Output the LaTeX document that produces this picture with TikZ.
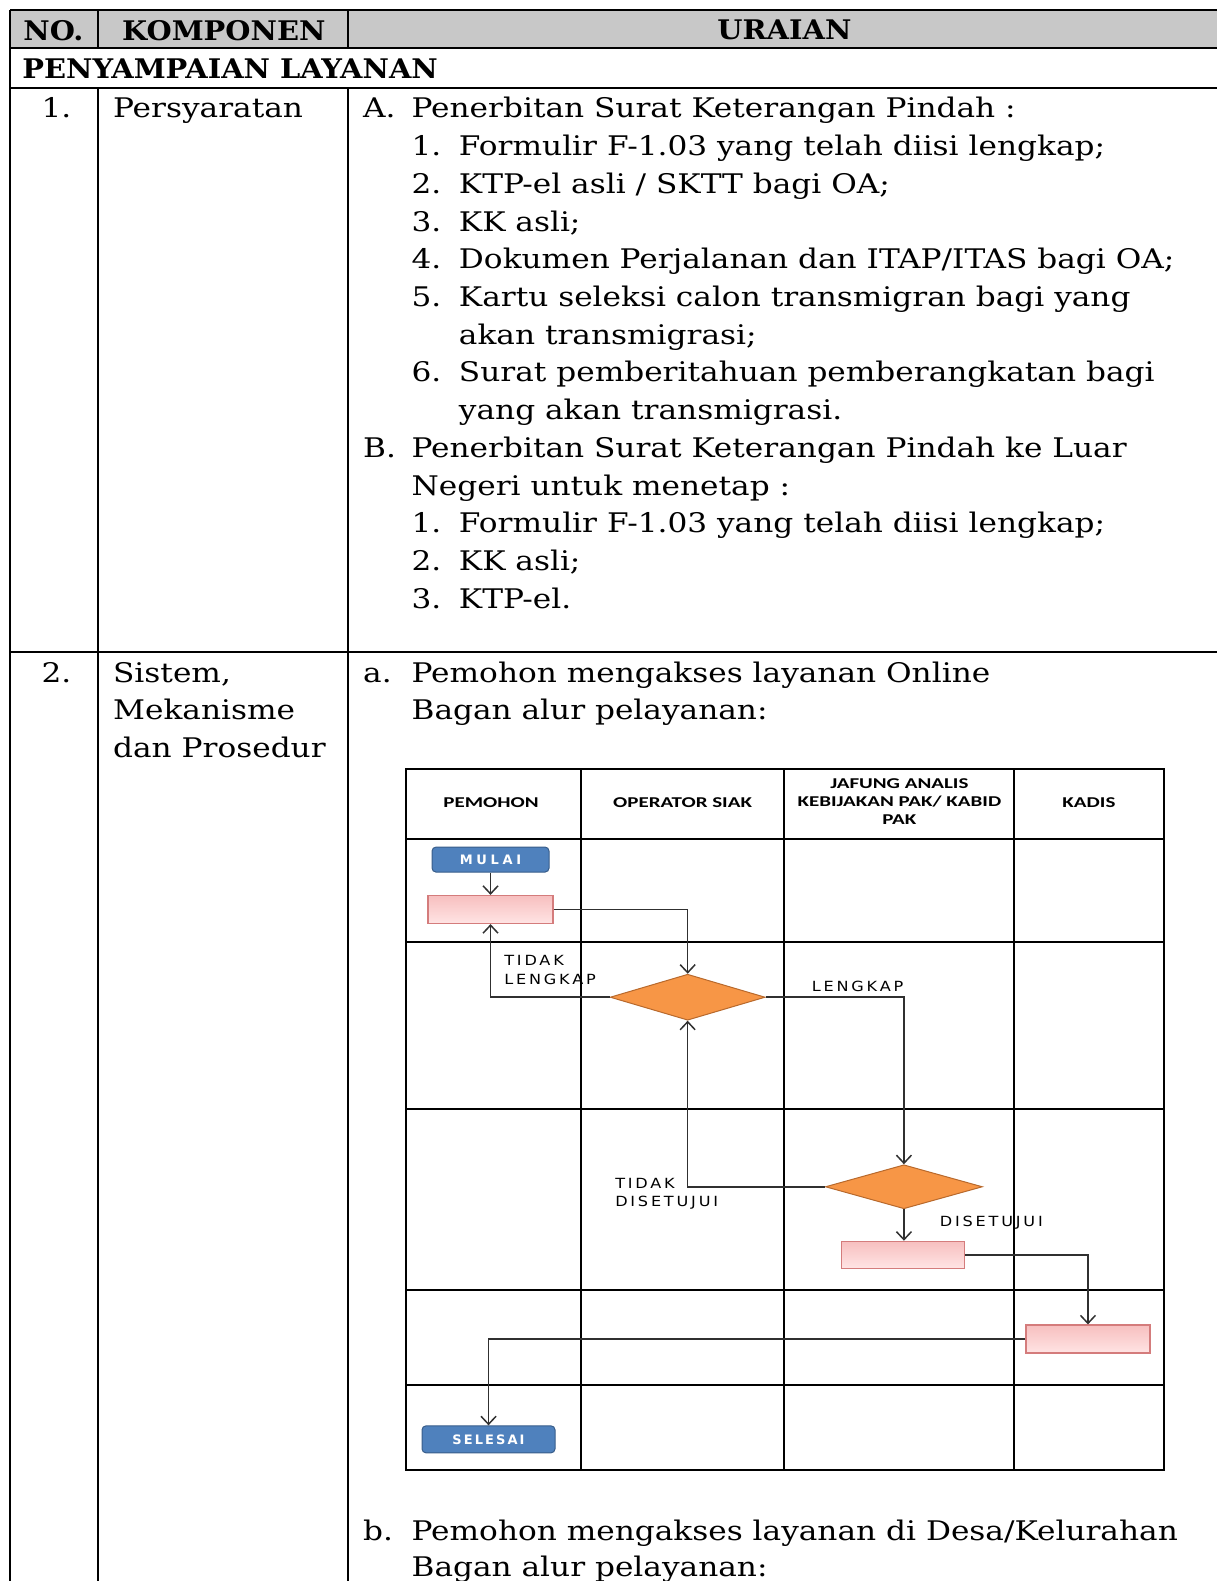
\documentclass[tikz,border=0pt]{standalone}
\usepackage{fontspec}
\setmainfont[FakeStretch=1.155]{DejaVu Serif}
\newfontfamily\hdrfont[FakeStretch=1.07]{DejaVu Serif}
\newfontfamily\chartfont[FakeStretch=1.4]{Carlito}
\newfontfamily\lblfont[FakeStretch=1.15,LetterSpace=20]{DejaVu Sans}
\newfontfamily\startfont[LetterSpace=28]{DejaVu Sans}
\newfontfamily\endfont[LetterSpace=16]{DejaVu Sans}
\usetikzlibrary{shapes.geometric,arrows.meta}

\definecolor{hdrgray}{HTML}{C8C8C8}
\definecolor{termblue}{HTML}{4F81BD}
\definecolor{termedge}{HTML}{385D8A}
\definecolor{pinktop}{HTML}{F7BFBF}
\definecolor{pinkbot}{HTML}{FFE4E4}
\definecolor{procedge}{HTML}{D47C7C}
\definecolor{decorange}{HTML}{F79646}
\definecolor{decedge}{HTML}{B8692C}
\definecolor{flowline}{HTML}{303030}

\tikzset{
  tabrule/.style={line width=2pt, black},
  gridrule/.style={line width=2pt, black},
  body/.style={anchor=base west, inner sep=0pt, font=\fontsize{27}{37}\selectfont},
  hdr/.style={inner sep=0pt, font=\hdrfont\fontsize{27}{37}\selectfont\bfseries},
  lanehdr/.style={inner sep=0pt, align=center, font=\chartfont\bfseries\fontsize{15}{18}\selectfont},
  flowlbl/.style={anchor=base west, inner sep=0pt, font=\lblfont\fontsize{14}{18}\selectfont},
  terminal/.style={rectangle, rounded corners=4pt, fill=termblue, draw=termedge,
    line width=1pt, text=white, font=\bfseries\fontsize{13}{15}\selectfont, inner sep=0pt},
  process/.style={rectangle, top color=pinktop, bottom color=pinkbot, draw=procedge,
    line width=1.2pt, inner sep=0pt},
  decision/.style={diamond, fill=decorange, draw=decedge, line width=1pt, inner sep=0pt},
  flow/.style={line width=1.5pt, draw=flowline, -{Straight Barb[length=8pt,width=15pt]}},
}

\begin{document}
\begin{tikzpicture}[x=1.00829pt,y=-1.00829pt]
\useasboundingbox (0,0) rectangle (1207,1568);
\clip (0,0) rectangle (1207,1568);

% ---------- table frame ----------
\fill[hdrgray] (10,10) rectangle (1230,48);
\draw[tabrule] (10,10) -- (1230,10);
\draw[tabrule] (10,48) -- (1230,48);
\draw[tabrule] (10,87) -- (1230,87);
\draw[tabrule] (10,647) -- (1230,647);
\draw[tabrule] (10,10) -- (10,1590);
\draw[tabrule] (97,10) -- (97,48);
\draw[tabrule] (345,10) -- (345,48);
\draw[tabrule] (97,87) -- (97,1590);
\draw[tabrule] (345,87) -- (345,1590);

% ---------- header ----------
\node[hdr] (hno) at (53,30) {NO.};
\node[hdr] (hkomp) at (222,30) {KOMPONEN};
\node[hdr] (hurai) at (778,30) {URAIAN};
\node[hdr, anchor=base west] (hsec) at (22,78) {PENYAMPAIAN LAYANAN};

% ---------- row 1 ----------
\node[body] (n1) at (41,117) {1.};
\node[body] (k1) at (112,117) {Persyaratan};
\node[body] (aA) at (360,117) {A.};
\node[body] (aAt) at (408,117) {Penerbitan Surat Keterangan Pindah :};
\node[body] (a1) at (408,154.4) {1.};
\node[body] (a1t) at (455,154.4) {Formulir F-1.03 yang telah diisi lengkap;};
\node[body] (a2) at (408,191.8) {2.};
\node[body] (a2t) at (455,191.8) {KTP-el asli / SKTT bagi OA;};
\node[body] (a3) at (408,229.2) {3.};
\node[body] (a3t) at (455,229.2) {KK asli;};
\node[body] (a4) at (408,266.6) {4.};
\node[body] (a4t) at (455,266.6) {Dokumen Perjalanan dan ITAP/ITAS bagi OA;};
\node[body] (a5) at (408,304) {5.};
\node[body] (a5t) at (455,304) {Kartu seleksi calon transmigran bagi yang};
\node[body] (a5u) at (455,341.4) {akan transmigrasi;};
\node[body] (a6) at (408,378.8) {6.};
\node[body] (a6t) at (455,378.8) {Surat pemberitahuan pemberangkatan bagi};
\node[body] (a6u) at (455,416.2) {yang akan transmigrasi.};
\node[body] (aB) at (360,453.6) {B.};
\node[body] (aBt) at (408,453.6) {Penerbitan Surat Keterangan Pindah ke Luar};
\node[body] (aBu) at (408,491) {Negeri untuk menetap :};
\node[body] (b1) at (408,528.4) {1.};
\node[body] (b1t) at (455,528.4) {Formulir F-1.03 yang telah diisi lengkap;};
\node[body] (b2) at (408,565.8) {2.};
\node[body] (b2t) at (455,565.8) {KK asli;};
\node[body] (b3) at (408,603.2) {3.};
\node[body] (b3t) at (455,603.2) {KTP-el.};

% ---------- row 2 ----------
\node[body] (n2) at (41,677) {2.};
\node[body] (k2a) at (112,677) {Sistem,};
\node[body] (k2b) at (112,714) {Mekanisme};
\node[body] (k2c) at (112,751) {dan Prosedur};
\node[body] (ua) at (360,677) {a.};
\node[body] (uat) at (408,677) {Pemohon mengakses layanan Online};
\node[body] (uau) at (408,714) {Bagan alur pelayanan:};
\node[body] (ub) at (360,1528) {b.};
\node[body] (ubt) at (408,1528) {Pemohon mengakses layanan di Desa/Kelurahan};
\node[body] (ubu) at (408,1564) {Bagan alur pelayanan:};

% ---------- swimlane grid ----------
\draw[gridrule] (403,763) rectangle (1154,1458);
\foreach \gx in {576,778,1006} \draw[gridrule] (\gx,763) -- (\gx,1458);
\foreach \gy in {832,934,1100,1279,1374} \draw[gridrule] (403,\gy) -- (1154,\gy);

\node[lanehdr] (lp) at (487,796) {PEMOHON};
\node[lanehdr] (lo) at (677,796) {OPERATOR SIAK};
\node[lanehdr] (lj) at (892,795) {JAFUNG ANALIS\\KEBIJAKAN PAK/ KABID\\PAK};
\node[lanehdr] (lk) at (1080,796) {KADIS};

% ---------- flow nodes ----------
\node[terminal, font=\startfont\bfseries\fontsize{13}{15}\selectfont,
      minimum width=117pt, minimum height=25pt] (mulai) at (486.5,852.5) {MULAI};
\node[process, minimum width=125pt, minimum height=28pt] (box1) at (486.5,902) {};
\node[decision, minimum width=155pt, minimum height=46pt] (dec1) at (682,989) {};
\node[decision, minimum width=157pt, minimum height=44pt] (dec2) at (896.5,1177) {};
\node[process, minimum width=123pt, minimum height=27pt] (box2) at (895.5,1244.5) {};
\node[process, minimum width=124pt, minimum height=28pt] (box3) at (1079,1328) {};
\node[terminal, font=\endfont\bfseries\fontsize{13}{15}\selectfont,
      minimum width=133pt, minimum height=27pt] (selesai) at (484.5,1427.5) {SELESAI};

% ---------- connectors ----------
\draw[flow] (mulai) -- (box1);
\draw[flow] (box1.east) -| (dec1.north);
\draw[flow] (dec1.west) -| (box1.south);
\draw[flow] (dec1.east) -| (dec2.north);
\draw[flow] (dec2.west) -| (dec1.south);
\draw[flow] (dec2.south) -- (dec2.south |- box2.north);
\draw[flow] (box2.east) -| (box3.north);
\draw[flow] (box3.west) -| (selesai.north);

% ---------- connector labels ----------
\node[flowlbl] (ltl1) at (500,958) {TIDAK};
\node[flowlbl] (ltl2) at (500,976) {LENGKAP};
\node[flowlbl] (ll) at (805,983) {LENGKAP};
\node[flowlbl] (ltd1) at (610,1179) {TIDAK};
\node[flowlbl] (ltd2) at (610,1197) {DISETUJUI};
\node[flowlbl] (ld) at (932,1216) {DISETUJUI};
\end{tikzpicture}
\end{document}
